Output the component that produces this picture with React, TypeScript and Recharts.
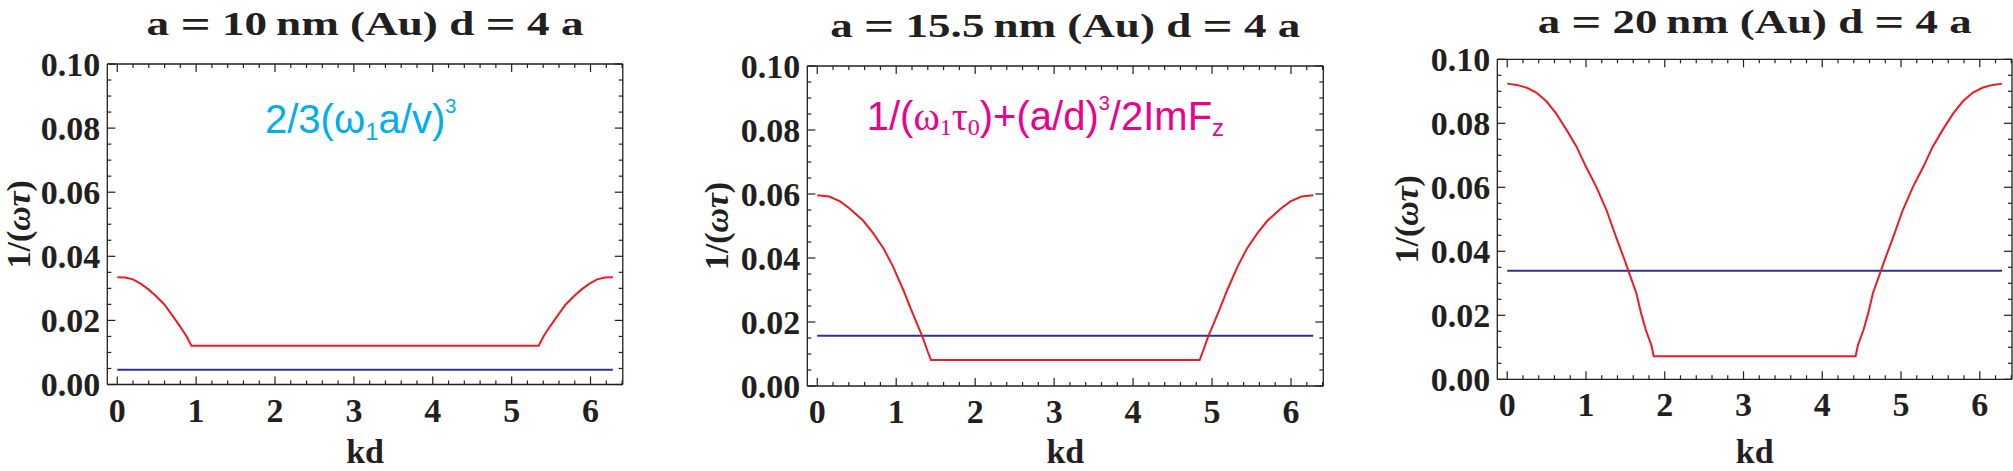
import React from 'react';
import { LineChart, Line, XAxis, YAxis, Label } from 'recharts';

// ---------- data ----------
const kd1 = [0, 0.1, 0.2, 0.3, 0.4, 0.5, 0.6, 0.7, 0.8, 0.88, 0.94, 5.343, 5.403, 5.483, 5.583, 5.683, 5.783, 5.883, 5.983, 6.083, 6.183, 6.283];
const red1 = [0.0335, 0.0334, 0.0328, 0.0314, 0.0296, 0.0274, 0.0249, 0.0215, 0.018, 0.015, 0.0121, 0.0121, 0.015, 0.018, 0.0215, 0.0249, 0.0274, 0.0296, 0.0314, 0.0328, 0.0334, 0.0335];

const kd2 = [0, 0.15, 0.29, 0.41, 0.58, 0.71, 0.84, 0.96, 1.09, 1.19, 1.28, 1.33, 1.4, 1.44, 4.843, 4.883, 4.953, 5.003, 5.093, 5.193, 5.323, 5.443, 5.573, 5.703, 5.873, 5.993, 6.133, 6.283];
const red2 = [0.0596, 0.0592, 0.0577, 0.0555, 0.0517, 0.0477, 0.043, 0.0373, 0.03, 0.0238, 0.0185, 0.0156, 0.0107, 0.0081, 0.0081, 0.0107, 0.0156, 0.0185, 0.0238, 0.03, 0.0373, 0.043, 0.0477, 0.0517, 0.0555, 0.0577, 0.0592, 0.0596];

const kd3 = [0, 0.12, 0.25, 0.37, 0.5, 0.62, 0.75, 0.88, 1.0, 1.13, 1.26, 1.38, 1.49, 1.55, 1.64, 1.7, 1.76, 1.83, 1.86, 4.423, 4.453, 4.523, 4.583, 4.643, 4.733, 4.793, 4.903, 5.023, 5.153, 5.283, 5.403, 5.533, 5.663, 5.783, 5.913, 6.033, 6.163, 6.283];
const red3 = [0.0924, 0.092, 0.0911, 0.0896, 0.0868, 0.0831, 0.0781, 0.0727, 0.0664, 0.0602, 0.0529, 0.0446, 0.0373, 0.0331, 0.0269, 0.0206, 0.0154, 0.0107, 0.0072, 0.0072, 0.0107, 0.0154, 0.0206, 0.0269, 0.0331, 0.0373, 0.0446, 0.0529, 0.0602, 0.0664, 0.0727, 0.0781, 0.0831, 0.0868, 0.0896, 0.0911, 0.092, 0.0924];

const blueLevels = [0.0046, 0.0157, 0.0339];

const titles = ['a = 10\u2009nm (Au) d = 4 a', 'a = 15.5\u2009nm (Au) d = 4 a', 'a = 20\u2009nm (Au) d = 4 a'];

const xMajorTicks = [0, 1, 2, 3, 4, 5, 6];
const xAllTicks = [0, 0.2, 0.4, 0.6, 0.8, 1, 1.2, 1.4, 1.6, 1.8, 2, 2.2, 2.4, 2.6, 2.8, 3, 3.2, 3.4, 3.6, 3.8, 4, 4.2, 4.4, 4.6, 4.8, 5, 5.2, 5.4, 5.6, 5.8, 6, 6.2, 6.4];
const yMajorTicks = [0, 0.02, 0.04, 0.06, 0.08, 0.1];
const yAllTicks = [0, 0.005, 0.01, 0.015, 0.02, 0.025, 0.03, 0.035, 0.04, 0.045, 0.05, 0.055, 0.06, 0.065, 0.07, 0.075, 0.08, 0.085, 0.09, 0.095, 0.1];
const xDomain = [-0.126, 6.409];
const yDomain = [0, 0.1];

const kdSets = [kd1, kd2, kd3];
const redSets = [red1, red2, red3];

// ---------- layout / style ----------
const W = 2013;
const H = 471;
const panels = [
  { divLeft: 0, plotLeft: 107.3, plotTop: 64, plotW: 515.5, plotH: 320.5, rightPad: 5, titleY: 35, titleW: 437, yLabelOff: 76.8 },
  { divLeft: 682, plotLeft: 807.3, plotTop: 66, plotW: 516, plotH: 320, rightPad: 5, titleY: 36.5, titleW: 470, yLabelOff: 79 },
  { divLeft: 1372, plotLeft: 1497.3, plotTop: 59.3, plotW: 514.7, plotH: 320, rightPad: 0, titleY: 33, titleW: 434, yLabelOff: 79 },
];

const SERIF = 'Liberation Serif';
const SANS = 'Liberation Sans';
const INK = '#231F20';
const RED = '#ED1C24';
const BLUE = '#2E3192';
const CYAN = '#00AEEF';
const MAGENTA = '#EC008C';
const MAJ = 8;
const MIN = 4;
const Y_GAP = 7;
const X_GAP = 14;
const FRAME = { stroke: INK, strokeWidth: 1.3 };

const isMajor = (v: number, arr: number[]) => arr.some((a) => Math.abs(a - v) < 1e-6);

const LeftTick = (props: any) => {
  const { x, y, payload } = props;
  const v = Number(payload.value);
  const major = isMajor(v, yMajorTicks);
  const ax = x + Y_GAP;
  return (
    <g>
      <line x1={ax} x2={ax + (major ? MAJ : MIN)} y1={y} y2={y} stroke={INK} strokeWidth={1.2} />
      {major ? (
        <text x={x} y={y} dy="0.34em" textAnchor="end" fontFamily={SERIF} fontWeight="bold" fontSize={34} fill={INK}>
          {v.toFixed(2)}
        </text>
      ) : null}
    </g>
  );
};

const RightTick = (props: any) => {
  const { x, y, payload } = props;
  const major = isMajor(Number(payload.value), yMajorTicks);
  return <line x1={x} x2={x - (major ? MAJ : MIN)} y1={y} y2={y} stroke={INK} strokeWidth={1.2} />;
};

const BottomTick = (props: any) => {
  const { x, y, payload } = props;
  const v = Number(payload.value);
  const major = isMajor(v, xMajorTicks);
  const ay = y - X_GAP;
  return (
    <g>
      <line x1={x} x2={x} y1={ay} y2={ay - (major ? MAJ : MIN)} stroke={INK} strokeWidth={1.2} />
      {major ? (
        <text x={x} y={y} dy="0.68em" textAnchor="middle" fontFamily={SERIF} fontWeight="bold" fontSize={34} fill={INK}>
          {String(v)}
        </text>
      ) : null}
    </g>
  );
};

const TopTick = (props: any) => {
  const { x, y, payload } = props;
  const major = isMajor(Number(payload.value), xMajorTicks);
  return <line x1={x} x2={x} y1={y} y2={y + (major ? MAJ : MIN)} stroke={INK} strokeWidth={1.2} />;
};

const makeYLabel = (off: number) => (props: any) => {
  const vb = props.viewBox || { x: 0, y: 0, width: 107, height: 320 };
  const bx = vb.x + vb.width - off;
  const cy = vb.y + vb.height / 2;
  return (
    <text x={bx} y={cy} transform={`rotate(-90 ${bx} ${cy})`} textAnchor="middle" fontFamily={SERIF} fontWeight="bold" fontSize={34} fill={INK}>
      1/(<tspan fontStyle="italic">ωτ</tspan>)
    </text>
  );
};

const XLabel = (props: any) => {
  const vb = props.viewBox || { x: 0, y: 0, width: 515, height: 80 };
  const base = Math.min(vb.y + 83.5, H - 7.6);
  return (
    <text x={vb.x + vb.width / 2} y={base} textAnchor="middle" fontFamily={SERIF} fontWeight="bold" fontSize={34} fill={INK}>
      kd
    </text>
  );
};

function Panel({ i }: { i: number }) {
  const p = panels[i];
  const data = kdSets[i].map((k, j) => ({ kd: k, red: redSets[i][j], blue: blueLevels[i] }));
  const leftW = p.plotLeft - p.divLeft;
  const width = leftW + p.plotW + 1 + p.rightPad;
  const bottomH = H - (p.plotTop + p.plotH);
  return (
    <div style={{ position: 'absolute', left: p.divLeft, top: 0, width, height: H }}>
      <LineChart width={width} height={H} data={data} margin={{ top: p.plotTop - 1, right: p.rightPad, bottom: 0, left: 0 }}>
        <XAxis xAxisId="b" dataKey="kd" type="number" domain={xDomain} allowDataOverflow ticks={xAllTicks} interval={0}
          orientation="bottom" height={bottomH} tickLine={false} tickSize={0} tickMargin={X_GAP} tick={BottomTick} axisLine={FRAME}>
          <Label content={XLabel} />
        </XAxis>
        <XAxis xAxisId="t" dataKey="kd" type="number" domain={xDomain} allowDataOverflow ticks={xAllTicks} interval={0}
          orientation="top" height={1} tickLine={false} tickSize={0} tickMargin={0} tick={TopTick} axisLine={FRAME} />
        <YAxis yAxisId="l" type="number" domain={yDomain} allowDataOverflow ticks={yAllTicks} interval={0}
          orientation="left" width={leftW} tickLine={false} tickSize={0} tickMargin={Y_GAP} tick={LeftTick} axisLine={FRAME}>
          <Label content={makeYLabel(p.yLabelOff)} />
        </YAxis>
        <YAxis yAxisId="r" type="number" domain={yDomain} allowDataOverflow ticks={yAllTicks} interval={0}
          orientation="right" width={1} tickLine={false} tickSize={0} tickMargin={0} tick={RightTick} axisLine={FRAME} />
        <Line xAxisId="b" yAxisId="l" type="linear" dataKey="blue" stroke={BLUE} strokeWidth={2} dot={false} activeDot={false} isAnimationActive={false} />
        <Line xAxisId="b" yAxisId="l" type="linear" dataKey="red" stroke={RED} strokeWidth={2} dot={false} activeDot={false} isAnimationActive={false} />
      </LineChart>
    </div>
  );
}

function Title({ i }: { i: number }) {
  const p = panels[i];
  const cx = p.plotLeft + p.plotW / 2;
  const segs = titles[i].split(' = ');
  return (
    <text x={cx} y={p.titleY} textAnchor="middle" textLength={p.titleW} lengthAdjust="spacingAndGlyphs"
      fontFamily={SERIF} fontWeight="bold" fontSize={34} fill={INK} style={{ whiteSpace: 'pre' }}>
      {segs.map((s, k) => (
        <React.Fragment key={k}>
          {k > 0 ? <tspan> </tspan> : null}
          {k > 0 ? <tspan fontSize={40} dy={3}>=</tspan> : null}
          <tspan fontSize={34} dy={k > 0 ? -3 : 0}>{(k > 0 ? ' ' : '') + s}</tspan>
        </React.Fragment>
      ))}
    </text>
  );
}

export default function App() {
  return (
    <div style={{ position: 'absolute', left: 0, top: 0, width: W, height: H, background: '#fff', overflow: 'hidden' }}>
      {[0, 1, 2].map((i) => (
        <Panel key={i} i={i} />
      ))}
      <svg width={W} height={H} style={{ position: 'absolute', left: 0, top: 0, pointerEvents: 'none' }}>
        {[0, 1, 2].map((i) => (
          <Title key={i} i={i} />
        ))}
        <text x={265} y={132.5} fontFamily={SANS} fontSize={40} fill={CYAN}>
          2/3(ω<tspan fontSize={24} dy={7.5}>1</tspan>
          <tspan dy={-7.5}>a/v)</tspan>
          <tspan fontSize={20} dy={-19.5}>3</tspan>
        </text>
        <text x={866.7} y={130} fontFamily={SANS} fontSize={40} fill={MAGENTA}>
          1/(<tspan fontFamily={SERIF}>ω</tspan>
          <tspan fontFamily={SERIF} fontSize={24} dy={5}>1</tspan>
          <tspan fontFamily={SERIF} dy={-5}>τ</tspan>
          <tspan fontFamily={SERIF} fontSize={24} dy={5}>0</tspan>
          <tspan dy={-5}>)+(a/d)</tspan>
          <tspan fontSize={20} dy={-20}>3</tspan>
          <tspan dy={20}>/2ImF</tspan>
          <tspan fontSize={24} dy={6}>z</tspan>
        </text>
      </svg>
    </div>
  );
}
